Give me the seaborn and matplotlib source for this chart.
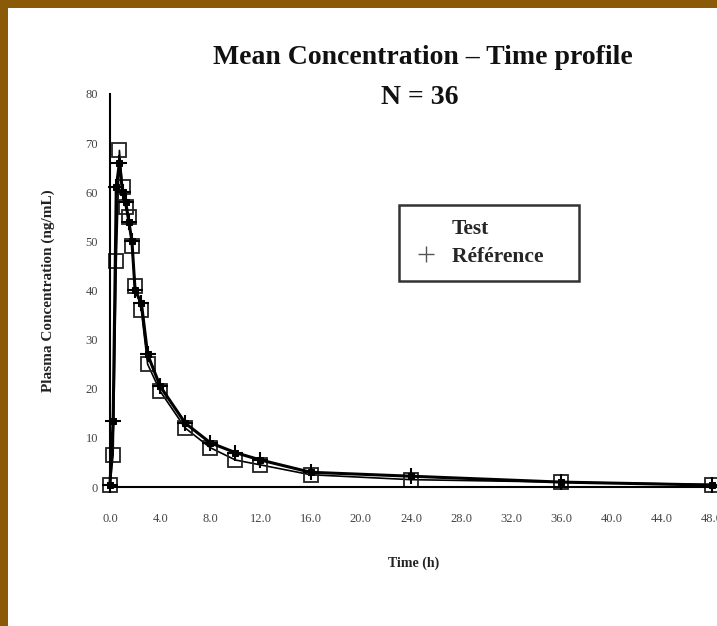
import pandas as pd
import seaborn as sns
import matplotlib.pyplot as plt
from matplotlib.lines import Line2D
from matplotlib.patches import Rectangle

# Mean plasma concentration (ng/mL) at each sampling time (h)
time_h = [0, 0.25, 0.5, 0.75, 1.0, 1.25, 1.5, 1.75, 2.0, 2.5, 3.0, 4.0,
          6.0, 8.0, 10.0, 12.0, 16.0, 24.0, 36.0, 48.0]
test_conc = [0.5, 6.5, 46.0, 68.5, 61.0, 57.0, 55.0, 49.0, 41.0, 36.0, 25.0,
             19.5, 12.0, 8.0, 5.5, 4.5, 2.5, 1.5, 1.0, 0.5]
ref_conc = [0.5, 13.5, 61.0, 66.0, 60.0, 58.0, 54.0, 50.0, 40.0, 37.5, 27.0,
            20.5, 13.0, 9.0, 7.0, 5.5, 3.0, 2.2, 1.0, 0.4]
x_ticks = [0, 4, 8, 12, 16, 20, 24, 28, 32, 36, 40, 44, 48]
y_ticks = [0, 10, 20, 30, 40, 50, 60, 70, 80]

df = pd.DataFrame({"Time": time_h * 2,
                   "Conc": test_conc + ref_conc,
                   "Product": ["Test"] * len(time_h) + ["Référence"] * len(time_h)})

sns.set_style("white")
plt.rcParams["font.family"] = ["Liberation Serif", "DejaVu Serif"]

fig = plt.figure(figsize=(7.17, 6.26), dpi=100)
fig.patch.set_facecolor("#8a5a08")
# white slide area inside the brown frame
fig.patches.append(Rectangle((8 / 717, 0), 1, 1 - 8 / 626, transform=fig.transFigure,
                             facecolor="white", edgecolor="none", zorder=-10))

ax = fig.add_axes([110 / 717, 0.222, 1 - 110 / 717, 0.628])
ax.set_facecolor("none")

sns.lineplot(data=df[df["Product"] == "Test"], x="Time", y="Conc", ax=ax,
             color="black", linewidth=1.2, marker="s", markersize=10.5,
             markerfacecolor="none", markeredgecolor="#222222", markeredgewidth=1.3,
             clip_on=False, legend=False)
sns.lineplot(data=df[df["Product"] == "Référence"], x="Time", y="Conc", ax=ax,
             color="black", linewidth=2.2, marker="s", markersize=5,
             markerfacecolor="black", markeredgecolor="black",
             clip_on=False, legend=False)
sns.scatterplot(data=df[df["Product"] == "Référence"], x="Time", y="Conc", ax=ax,
                marker="+", s=130, color="black", linewidth=1.5,
                clip_on=False, legend=False, zorder=5)

ax.set_xlim(0, 48.4)
ax.set_ylim(0, 80)
ax.set_xticks(x_ticks)
ax.set_xticklabels([f"{t:.1f}" for t in x_ticks])
ax.set_yticks(y_ticks)
ax.tick_params(axis="both", direction="inout", length=9, width=1.0,
               labelsize=9, labelcolor="#444444", color="black")
ax.tick_params(axis="x", pad=14)
ax.tick_params(axis="y", pad=4)
for side in ["top", "right"]:
    ax.spines[side].set_visible(False)
for side in ["left", "bottom"]:
    ax.spines[side].set_color("black")
    ax.spines[side].set_linewidth(1.5)

ax.set_xlabel("Time (h)", fontsize=10, fontweight="bold", color="#222222", labelpad=23)
ax.set_ylabel("Plasma Concentration (ng/mL)", fontsize=11, fontweight="bold",
              color="#222222", labelpad=22)

fig.text(423 / 717, 1 - 57 / 626, "Mean Concentration – Time profile",
         ha="center", va="center", fontsize=20, fontweight="bold", color="#111111")
fig.text(420 / 717, 1 - 97 / 626, "N = 36",
         ha="center", va="center", fontsize=20, fontweight="bold", color="#111111")

handles = [Line2D([], [], linestyle="none", marker=None),
           Line2D([], [], linestyle="none", marker="+", color="#555555", markersize=11)]
leg = ax.legend(handles, ["Test", "Référence    "], loc="upper left",
                bbox_to_anchor=((399 - 110) / 607, 1 - (205 - 94) / 393),
                borderaxespad=0, frameon=True, fancybox=False, handlelength=1.2,
                handletextpad=0.6, borderpad=0.65, labelspacing=0.35,
                prop={"weight": "bold", "size": 15.5})
leg.get_frame().set_edgecolor("black")
leg.get_frame().set_linewidth(1.8)

fig.savefig("out.png", dpi=100)
